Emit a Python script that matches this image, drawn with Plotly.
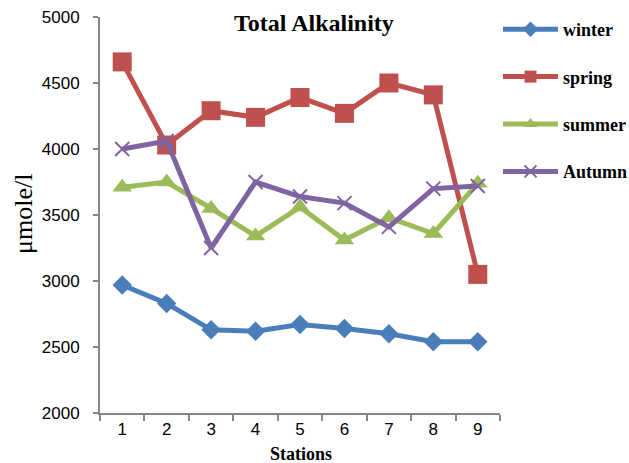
import plotly.graph_objects as go

stations = ["1", "2", "3", "4", "5", "6", "7", "8", "9"]
winter = [2970, 2830, 2630, 2620, 2670, 2640, 2600, 2540, 2540]
spring = [4660, 4030, 4290, 4240, 4390, 4270, 4500, 4410, 3050]
summer = [3710, 3750, 3550, 3340, 3560, 3310, 3480, 3360, 3740]
autumn = [4000, 4060, 3250, 3750, 3640, 3590, 3410, 3700, 3720]

y_ticks = [2000, 2500, 3000, 3500, 4000, 4500, 5000]

W, H = 629, 463
ML, MR, MT, MB = 100, 129, 17, 50

series = [
    ("winter", winter, "#4A7EBB", "diamond", 15),
    ("spring", spring, "#C0504D", "square", 19),
    ("summer", summer, "#9BBB59", "triangle-up", 17),
    ("Autumn", autumn, "#8064A2", "x-thin", 14),
]

fig = go.Figure()
for name, vals, col, sym, sz in series:
    marker = dict(symbol=sym, size=sz, color=col)
    if sym == "x-thin":
        marker["line"] = dict(color=col, width=2)
    fig.add_trace(go.Scatter(
        x=stations, y=vals, name=name, mode="lines+markers",
        line=dict(color=col, width=5), marker=marker,
        legendgroup=name,
    ))

plot_h = H - MT - MB
plot_w = W - ML - MR

def py(pix):
    return (H - MB - pix) / plot_h

def px(pix):
    return (pix - ML) / plot_w

fig.update_layout(
    width=W, height=H,
    margin=dict(l=ML, r=MR, t=MT, b=MB, autoexpand=False),
    paper_bgcolor="white", plot_bgcolor="white",
    showlegend=True,
    legend=dict(
        x=px(498), y=py(11), xanchor="left", yanchor="top",
        font=dict(family="Liberation Serif", size=18, color="black", weight="bold"),
        tracegroupgap=21, itemsizing="constant", itemwidth=55,
        bgcolor="rgba(0,0,0,0)",
    ),
    xaxis=dict(
        type="category", range=[-0.5, 8.5],
        showline=True, linecolor="#868686", linewidth=2,
        ticks="outside", tickson="boundaries", ticklen=6, tickwidth=2, tickcolor="#868686",
        tickfont=dict(family="Liberation Sans", size=17, color="black"),
        showgrid=False, zeroline=False,
    ),
    yaxis=dict(
        range=[2000, 5000], tickvals=y_ticks,
        showline=True, linecolor="#868686", linewidth=2,
        ticks="outside", ticklen=5, tickwidth=2, tickcolor="#868686",
        tickfont=dict(family="Liberation Sans", size=17, color="black"),
        ticklabelstandoff=10,
        showgrid=False, zeroline=False,
    ),
    annotations=[
        dict(text="Total Alkalinity", xref="paper", yref="paper",
             x=px(314), y=py(22.6), xanchor="center", yanchor="middle", showarrow=False,
             font=dict(family="Liberation Serif", size=24, color="black", weight="bold")),
        dict(text="μmole/l", xref="paper", yref="paper",
             x=px(23), y=py(214), xanchor="center", yanchor="middle", showarrow=False,
             textangle=-90,
             font=dict(family="Liberation Serif", size=26, color="black")),
        dict(text="Stations", xref="paper", yref="paper",
             x=px(301), y=py(442), xanchor="center", yanchor="top", showarrow=False,
             font=dict(family="Liberation Serif", size=18, color="black", weight="bold")),
    ],
)

fig.write_html("out.html")
